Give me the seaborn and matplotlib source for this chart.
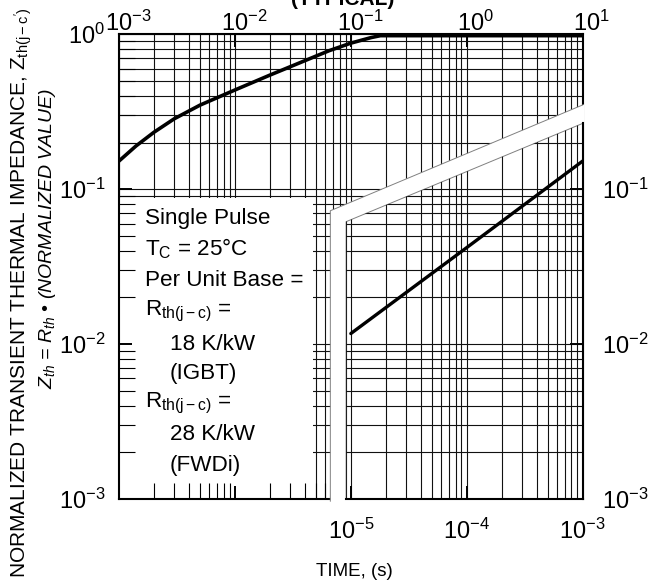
import numpy as np
import matplotlib
matplotlib.use('Agg')
import matplotlib.pyplot as plt
import matplotlib.ticker as mticker
from matplotlib.patches import Polygon, Rectangle
from matplotlib.transforms import ScaledTranslation
import seaborn as sns

# IGBT curve, read against the upper time axis (s)
igbt_time = [1e-3, 1.4e-3, 2e-3, 3e-3, 5e-3, 1e-2, 2e-2, 4e-2, 6.5e-2,
             1e-1, 1.5e-1, 1.8e-1, 1e0, 1e1]
igbt_zth = [0.152, 0.19, 0.233, 0.285, 0.349, 0.437, 0.545, 0.675, 0.784,
            0.877, 0.953, 0.98, 0.98, 0.98]

# FWDi curve, read against the lower time axis (s)
fwd_time = [1e-5, 1e-4, 1e-3]
fwd_zth = [0.0117, 0.042, 0.152]

upper_ticks = [1e-3, 1e-2, 1e-1, 1e0, 1e1]
lower_ticks = [1e-7, 1e-6, 1e-5, 1e-4, 1e-3]
left_ticks = [1e-3, 1e-2, 1e-1, 1e0]
right_ticks = [1e-3, 1e-2, 1e-1]

note_lines = ["Single Pulse", r"T$_\mathregular{C}$ = 25°C", "Per Unit Base =",
              r"R$_\mathregular{th(j-c)}$ =", "18 K/kW", "(IGBT)",
              r"R$_\mathregular{th(j-c)}$ =", "28 K/kW", "(FWDi)"]
note_indent = [0, 0, 0, 0, 1, 1, 0, 1, 1]
note_base_px = [224, 255.5, 285.5, 315.5, 349.5, 379.5, 407.5, 440.5, 470.5]

sns.set_theme(style='white')
plt.rcParams['font.family'] = ['Liberation Sans', 'DejaVu Sans']
plt.rcParams['mathtext.fontset'] = 'custom'
plt.rcParams['mathtext.rm'] = 'Liberation Sans'
plt.rcParams['mathtext.it'] = 'Liberation Sans:italic'
plt.rcParams['mathtext.bf'] = 'Liberation Sans:bold'
plt.rcParams['text.color'] = 'black'
plt.rcParams['xtick.color'] = 'black'
plt.rcParams['ytick.color'] = 'black'
plt.rcParams['axes.edgecolor'] = 'black'

W, H = 667, 588
def fx(p): return p / W
def fy(p): return 1 - p / H

AX = [fx(119), fy(499), 463.7 / W, 464.7 / H]
GRID = dict(color='#111111', lw=0.8)
TICKSIZE = 17

fig = plt.figure(figsize=(W / 100, H / 100), dpi=100)

# ---- main axes (upper time scale) ----
ax = fig.add_axes(AX)
ax.set_xscale('log')
ax.set_yscale('log')
sns.lineplot(x=igbt_time, y=igbt_zth, ax=ax, color='black', lw=2.6, zorder=4)
ax.set_xlim(1e-3, 1e1)
ax.set_ylim(1e-3, 1)
ax.set_axisbelow(True)
ax.grid(True, which='both', **GRID)
ax.add_patch(Rectangle((1e-3, 1e-3), 0.047 - 1e-3, 0.088 - 1e-3,
                       facecolor='white', edgecolor='none', zorder=1))
ax.set_xticks(upper_ticks)
ax.xaxis.set_ticks_position('top')
ax.tick_params(axis='x', which='major', direction='in', length=9.5, width=1.4,
               top=True, bottom=False, labeltop=True, labelbottom=False,
               labelsize=TICKSIZE, pad=-1)
ax.tick_params(axis='x', which='minor', top=False, bottom=False)
ax.tick_params(axis='y', which='both', left=False, right=False,
               labelleft=False, labelright=False)
for s in ax.spines.values():
    s.set_linewidth(1.5)
    s.set_color('black')
for lab in ax.get_xticklabels():
    lab.set_transform(lab.get_transform() + ScaledTranslation(0.09, 0, fig.dpi_scale_trans))

# ---- overlay axes (lower time scale) ----
ax_in = fig.add_axes(AX)
ax_in.patch.set_visible(False)
ax_in.set_xscale('log')
ax_in.set_yscale('log')

xo, yo_l, yo_r = 10 ** -5.177, 0.0726, 0.35
xi, yi_l, yi_r = 10 ** -5.041, 0.0617, 0.266
yb, xr = 10 ** -3.015, 10 ** -2.985

band = Polygon([(xo, yb), (xo, yo_l), (1e-3, yo_r), (xr, yo_r * 1.011), (xr, yb)],
               closed=True, facecolor='white', edgecolor='none', zorder=1, clip_on=False)
ax_in.add_patch(band)
inner = Polygon([(xi, 1e-3), (xi, yi_l), (1e-3, yi_r), (1e-3, 1e-3)],
                closed=True, facecolor='white', edgecolor='none', zorder=1.1)
ax_in.add_patch(inner)
ax_in.plot([xo, xo, 1e-3], [yb, yo_l, yo_r], color='#808080', lw=0.7, clip_on=False, zorder=1.2)
ax_in.plot([xi, xi, 1e-3], [1e-3, yi_l, yi_r], color='#808080', lw=0.7, zorder=1.2)

for d in range(-6, -3):
    for k in range(1, 10):
        ln = ax_in.axvline(k * 10.0 ** d, zorder=1.5, **GRID)
        ln.set_clip_path(inner)
for d in range(-3, 0):
    for k in range(1, 10):
        ln = ax_in.axhline(k * 10.0 ** d, zorder=1.5, **GRID)
        ln.set_clip_path(inner)

sns.lineplot(x=fwd_time, y=fwd_zth, ax=ax_in, color='black', lw=2.4, zorder=4)
ax_in.set_xlim(1e-7, 1e-3)
ax_in.set_ylim(1e-3, 1)
ax_in.set_axisbelow(False)

minor_x = [k * 10.0 ** d for d in range(-7, -4) for k in range(2, 10) if k * 10.0 ** d < xo]
ax_in.xaxis.set_major_locator(mticker.FixedLocator(lower_ticks))
ax_in.xaxis.set_minor_locator(mticker.FixedLocator(minor_x))
ax_in.xaxis.set_major_formatter(mticker.FuncFormatter(
    lambda v, p: r'$\mathdefault{10^{%d}}$' % round(np.log10(v)) if v > 0.99e-5 else ''))
ax_in.xaxis.set_minor_formatter(mticker.NullFormatter())
ax_in.yaxis.set_major_locator(mticker.FixedLocator(left_ticks))
ax_in.yaxis.set_minor_locator(mticker.LogLocator(base=10, subs=np.arange(2, 10)))
ax_in.yaxis.set_minor_formatter(mticker.NullFormatter())

ax_in.tick_params(axis='both', which='major', direction='in', length=9.5, width=1.4,
                  labelsize=TICKSIZE)
ax_in.tick_params(axis='both', which='minor', direction='in', length=11.5, width=0.8)
ax_in.tick_params(axis='x', which='both', bottom=True, top=False,
                  labelbottom=True, labeltop=False, pad=14)
ax_in.tick_params(axis='y', which='both', left=True, right=False,
                  labelleft=True, labelright=False, pad=10)

ax_in.spines['top'].set_visible(False)
ax_in.spines['left'].set_visible(False)
ax_in.spines['bottom'].set_bounds(xi, 1e-3)
ax_in.spines['right'].set_bounds(1e-3, yi_r)
for s in ax_in.spines.values():
    s.set_linewidth(1.5)
    s.set_color('black')

ax_r = ax_in.twinx()
ax_r.set_yscale('log')
ax_r.set_ylim(1e-3, 1)
ax_r.yaxis.set_major_locator(mticker.FixedLocator(right_ticks))
ax_r.yaxis.set_minor_locator(mticker.NullLocator())
ax_r.tick_params(axis='y', which='major', direction='in', length=9.5, width=1.4,
                 labelsize=TICKSIZE, pad=14, right=True, labelright=True)
for s in ax_r.spines.values():
    s.set_visible(False)

# ---- texts ----
for txt, ind, base in zip(note_lines, note_indent, note_base_px):
    fig.text(fx(145 + 25 * ind), fy(base), txt, fontsize=16.2, va='baseline', ha='left')

fig.text(fx(343), fy(5), '(TYPICAL)', fontsize=15, fontweight='bold',
         ha='center', va='baseline')
fig.text(fx(354), fy(571), 'TIME, (s)', fontsize=13.5, ha='center', va='center')
fig.text(fx(22), fy(293), r"NORMALIZED TRANSIENT THERMAL IMPEDANCE, Z$_\mathregular{th(j-c')}$",
         rotation=90, fontsize=15, ha='center', va='center')
fig.text(fx(48), fy(238), r"$Z_{th}$ = $R_{th}$ • (NORMALIZED VALUE)",
         rotation=90, fontsize=14, fontstyle='italic', ha='center', va='center')

fig.savefig('out.png', dpi=100)
